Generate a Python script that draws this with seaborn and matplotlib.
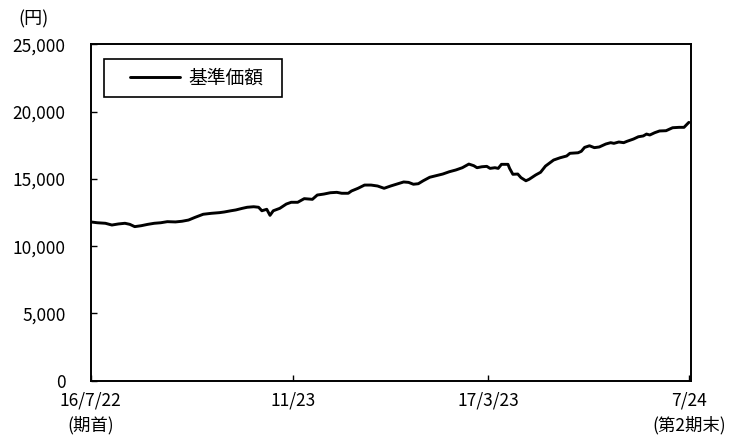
import matplotlib
matplotlib.use("Agg")
import matplotlib.pyplot as plt
import matplotlib.ticker as mticker
from matplotlib.legend_handler import HandlerLine2D
import seaborn as sns
import pandas as pd

# ---- data ----
start_date = "2016-07-22"
day_offsets = [0, 4, 9, 13, 17, 21, 24, 27, 31, 35, 39, 43, 47, 52, 56, 60, 64, 69, 74, 79,
               82, 86, 89, 93, 96, 100, 103, 105, 108, 110, 112, 116, 120, 123, 127, 131, 136,
               139, 143, 147, 151, 154, 158, 160, 164, 168, 172, 176, 180, 184, 188, 192, 195,
               198, 201, 204, 208, 212, 216, 220, 224, 228, 232, 235, 237, 240, 243, 245, 248,
               250, 252, 256, 257, 259, 262, 264, 267, 269, 273, 276, 279, 284, 288, 292, 294,
               299, 301, 303, 306, 309, 312, 316, 319, 321, 324, 327, 329, 333, 336, 339, 341,
               343, 346, 349, 353, 357, 361, 364, 366, 367]
nav_values = [11800, 11740, 11700, 11570, 11650, 11700, 11620, 11450, 11520, 11620, 11700,
              11740, 11820, 11800, 11850, 11940, 12140, 12370, 12440, 12490, 12540, 12630,
              12690, 12810, 12890, 12930, 12890, 12630, 12740, 12290, 12630, 12810, 13130,
              13260, 13260, 13530, 13480, 13800, 13870, 13970, 14000, 13930, 13930, 14100,
              14300, 14540, 14540, 14470, 14300, 14470, 14620, 14770, 14740, 14600, 14640,
              14860, 15120, 15240, 15360, 15530, 15660, 15830, 16100, 15980, 15830, 15900,
              15930, 15780, 15830, 15780, 16080, 16080, 15780, 15340, 15360, 15090, 14860,
              14970, 15290, 15490, 15950, 16400, 16570, 16700, 16900, 16940, 17050, 17340,
              17460, 17320, 17370, 17590, 17690, 17640, 17740, 17690, 17790, 17960, 18130,
              18190, 18330, 18260, 18430, 18560, 18580, 18800, 18830, 18830, 19080, 19200]
series_name = "基準価額"
tick_dates = ["2016-07-22", "2016-11-23", "2017-03-23", "2017-07-24"]
tick_labels = ["16/7/22\n(期首)", "11/23", "17/3/23", "7/24\n(第2期末)"]
y_ticks = [0, 5000, 10000, 15000, 20000, 25000]
unit_label = "(円)"

# ---- style ----
sns.set_theme(style="white")
plt.rcParams["font.family"] = ["Noto Sans CJK JP", "DejaVu Sans"]
plt.rcParams["axes.unicode_minus"] = False

dates = pd.Timestamp(start_date) + pd.to_timedelta(day_offsets, unit="D")
df = pd.DataFrame({"date": dates, "value": nav_values})

fig = plt.figure(figsize=(7.31, 4.37), dpi=100)
ax = fig.add_axes([0.1241, 0.1288, 0.8212, 0.7698])

sns.lineplot(data=df, x="date", y="value", color="black", linewidth=2.1,
             label=series_name, ax=ax)

ax.set_xlim(pd.Timestamp(start_date), pd.Timestamp(start_date) + pd.Timedelta(days=368.3))
ax.set_ylim(0, 25000)
ax.set_yticks(y_ticks)
ax.yaxis.set_major_formatter(mticker.FuncFormatter(lambda v, p: f"{int(v):,}"))
ax.set_xticks(pd.to_datetime(tick_dates))
ax.set_xticklabels(tick_labels, linespacing=1.45)
ax.set_xlabel("")
ax.set_ylabel("")

for s in ax.spines.values():
    s.set_color("black")
    s.set_linewidth(1.4)

ax.tick_params(axis="y", direction="in", length=4.5, width=1.0, color="black",
               labelsize=12.5, pad=18, left=True, labelcolor="black")
ax.tick_params(axis="x", direction="in", length=4.5, width=1.0, color="black",
               labelsize=12.5, pad=8, bottom=True, labelcolor="black")

handles, labels = ax.get_legend_handles_labels()
leg = ax.legend(handles, labels, loc="upper left",
                bbox_to_anchor=(0.022, 0.856, 0.2965, 0.1), mode="expand",
                borderaxespad=0, frameon=True, fancybox=False, edgecolor="black",
                framealpha=1, fontsize=13.5, handlelength=3.6, handletextpad=0.43,
                borderpad=0.45,
                handler_map={handles[0]: HandlerLine2D(xpad=0.94)})
leg.get_frame().set_linewidth(1.2)
for t in leg.get_texts():
    t.set_color("black")

fig.text(34 / 731, 1 - 19 / 437, unit_label, ha="center", va="center",
         fontsize=13, color="black")

fig.savefig("out.png", dpi=100, facecolor="white")
